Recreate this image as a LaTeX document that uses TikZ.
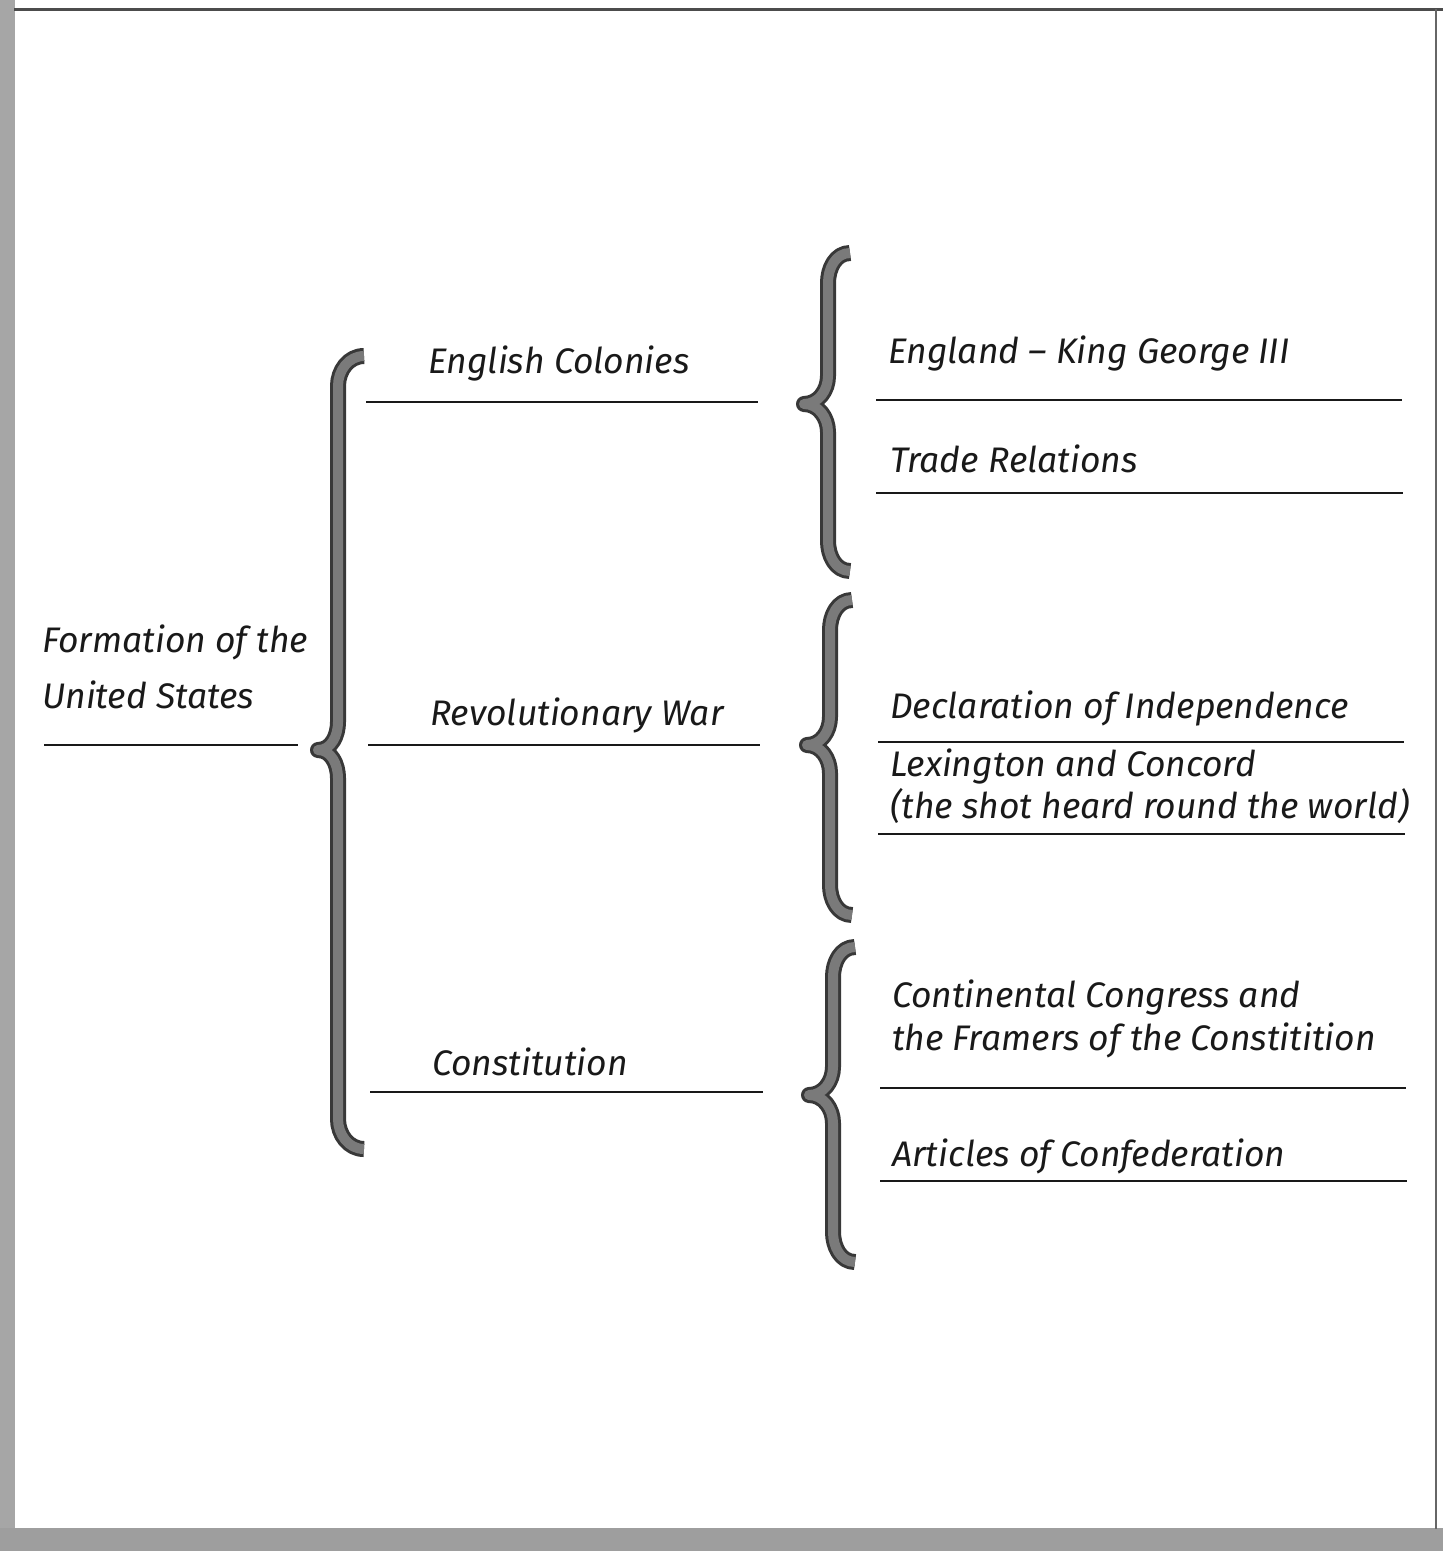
\documentclass[tikz,border=0pt]{standalone}
\usepackage{fontspec}
\setmainfont{Fira Sans}
\begin{document}
\begin{tikzpicture}[x=1pt,y=-1pt,
  label/.style={anchor=base west,inner sep=0pt,font=\fontsize{35.5}{42}\selectfont\itshape,align=left,text=black!90},
  rule/.style={line width=2.8pt,black!90},
  bracestroke/.style={line width=16pt,black!78,line cap=butt,line join=round},
  bracefill/.style={line width=10pt,black!52,line cap=butt,line join=round}]
% page and its frame
\useasboundingbox (0,0) rectangle (1443,1551);
\fill[white] (0,0) rectangle (1443,1551);
\fill[black!35] (0,0) rectangle (15,1551);
\fill[black!38] (0,1528) rectangle (1443,1551);
\draw[line width=3pt,black!70] (14,9) -- (1443,9);
\draw[line width=2pt,black!60] (1436,9) -- (1436,1529);

% curly brace: right end x, stem x, tip x, top y, middle y, bottom y
\newcommand{\bracepath}[6]{(#1,#4) to[out=180,in=90] (#2,#4+30) -- (#2,#5-28)
  to[out=-90,in=0] (#3,#5) to[out=0,in=90] (#2,#5+28) -- (#2,#6-30)
  to[out=-90,in=180] (#1,#6)}
\newcommand{\drawbrace}[6]{%
  \draw[bracestroke] \bracepath{#1}{#2}{#3}{#4}{#5}{#6};
  \draw[bracefill] \bracepath{#1}{#2}{#3}{#4}{#5}{#6};}

\drawbrace{364}{338}{318}{356}{750}{1149}
\drawbrace{850}{828}{804}{253}{404}{571}
\drawbrace{852}{830}{807}{600}{745}{915}
\drawbrace{855}{833}{809}{947}{1095}{1262}

% root
\node[label,font=\fontsize{35.5}{56}\selectfont\itshape] (root) at (42,708) {Formation of the\\United States};
\draw[rule] (44,745) -- (298,745);

% middle level
\node[label] (colonies) at (428,373) {English Colonies};
\draw[rule] (366,402) -- (758,402);
\node[label] (war) at (430,725) {Revolutionary War};
\draw[rule] (368,745) -- (760,745);
\node[label] (const) at (432,1075) {Constitution};
\draw[rule] (370,1092) -- (763,1092);

% right level
\node[label] (england) at (888,363) {England -- King George III};
\draw[rule] (876,400) -- (1402,400);
\node[label] (trade) at (890,472) {Trade Relations};
\draw[rule] (876,493) -- (1403,493);

\node[label] (decl) at (890,718) {Declaration of Independence};
\draw[rule] (878,742) -- (1404,742);
\node[label] (lex) at (890,818) {Lexington and Concord\\(the shot heard round the world)};
\draw[rule] (878,834) -- (1405,834);

\node[label,font=\fontsize{35.5}{43}\selectfont\itshape] (congress) at (892,1050) {Continental Congress and\\the Framers of the Constitition};
\draw[rule] (880,1088) -- (1406,1088);
\node[label] (articles) at (892,1166) {Articles of Confederation};
\draw[rule] (880,1181) -- (1407,1181);
\end{tikzpicture}
\end{document}
